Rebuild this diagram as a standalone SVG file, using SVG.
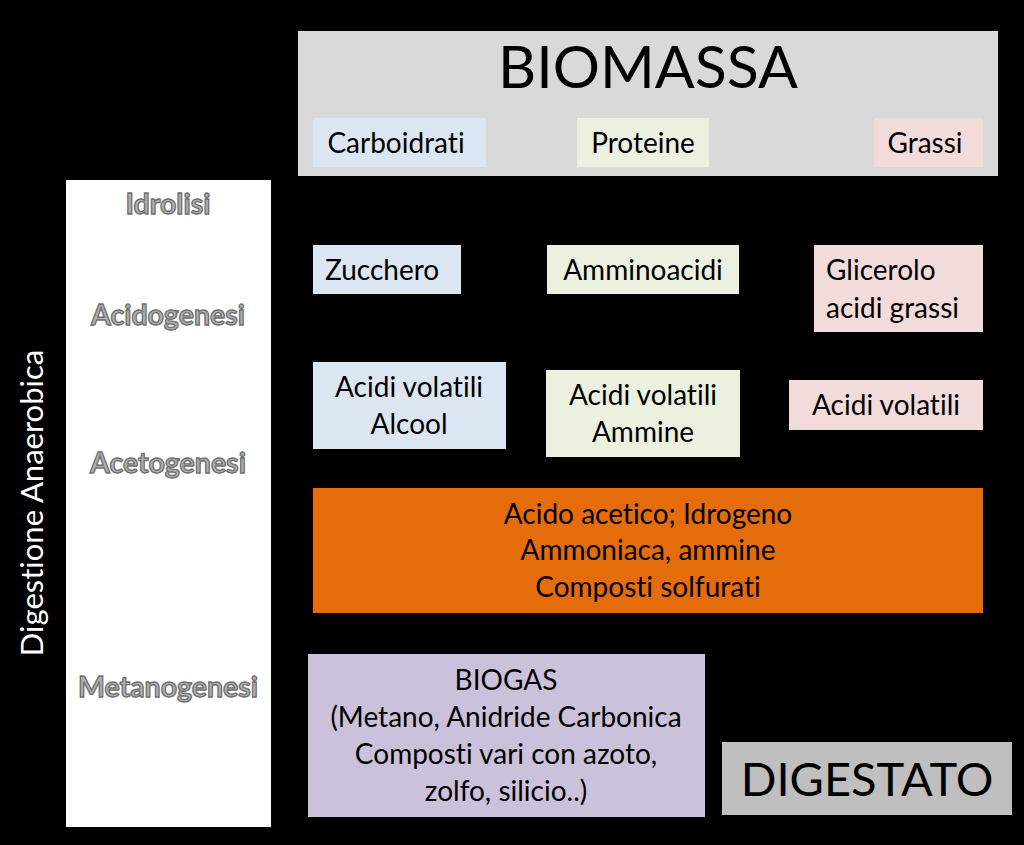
<svg xmlns="http://www.w3.org/2000/svg" width="1024" height="845" viewBox="0 0 1024 845">
<style>
text{font-variant-ligatures:none;font-feature-settings:"liga" 0,"clig" 0}
.t{font-family:Lato,"Liberation Sans",sans-serif;font-size:28px;fill:#000}
.c{text-anchor:middle}
.ph{font-family:Lato,"Liberation Sans",sans-serif;font-size:28.5px;font-weight:bold;fill:#b0b0b0;stroke:#6f6f6f;stroke-width:1.3;text-anchor:middle}
</style>
<rect x="0" y="0" width="1024" height="845" fill="#000"/>
<g id="biomassa">
<rect x="298" y="31" width="700" height="145" fill="#d9d9d9"/>
<text class="t c" x="648" y="88" style="font-size:59px">BIOMASSA</text>
</g>
<g id="carboidrati"><rect x="313" y="118" width="173" height="49" fill="#dce6f2"/><text class="t c" x="396" y="153">Carboidrati</text></g>
<g id="proteine"><rect x="577" y="118" width="132" height="49" fill="#ebf1de"/><text class="t c" x="643" y="153">Proteine</text></g>
<g id="grassi"><rect x="874" y="118" width="109" height="49" fill="#f2dcdb"/><text class="t c" x="925" y="153">Grassi</text></g>
<g id="fasi">
<rect x="66" y="180" width="205" height="647" fill="#fff"/>
<text class="ph" x="168" y="214">Idrolisi</text>
<text class="ph" x="168" y="325">Acidogenesi</text>
<text class="ph" x="168" y="473">Acetogenesi</text>
<text class="ph" x="168" y="697">Metanogenesi</text>
</g>
<g id="digestione"><text class="t c" x="0" y="0" style="fill:#fff;font-size:31px" transform="translate(43,503) rotate(-90)">Digestione Anaerobica</text></g>
<g id="zucchero"><rect x="313" y="245" width="148" height="49" fill="#dce6f2"/><text class="t" x="325" y="280">Zucchero</text></g>
<g id="amminoacidi"><rect x="547" y="245" width="192" height="49" fill="#ebf1de"/><text class="t c" x="643" y="280">Amminoacidi</text></g>
<g id="glicerolo"><rect x="814" y="245" width="169" height="87" fill="#f2dcdb"/><text class="t" x="826" y="280">Glicerolo</text><text class="t" x="826" y="318">acidi grassi</text></g>
<g id="acidi1"><rect x="313" y="362" width="193" height="87" fill="#dce6f2"/><text class="t c" x="409" y="397">Acidi volatili</text><text class="t c" x="409" y="434">Alcool</text></g>
<g id="acidi2"><rect x="546" y="370" width="194" height="87" fill="#ebf1de"/><text class="t c" x="643" y="405">Acidi volatili</text><text class="t c" x="643" y="442">Ammine</text></g>
<g id="acidi3"><rect x="789" y="380" width="194" height="50" fill="#f2dcdb"/><text class="t c" x="886" y="415">Acidi volatili</text></g>
<g id="acetico"><rect x="313" y="488" width="670" height="125" fill="#e46c0a"/>
<text class="t c" x="648" y="524">Acido acetico; Idrogeno</text>
<text class="t c" x="648" y="560">Ammoniaca, ammine</text>
<text class="t c" x="648" y="597">Composti solfurati</text></g>
<g id="biogas"><rect x="308" y="654" width="397" height="163" fill="#ccc1da"/>
<text class="t c" x="506" y="690">BIOGAS</text>
<text class="t c" x="506" y="727">(Metano, Anidride Carbonica</text>
<text class="t c" x="506" y="764">Composti vari con azoto,</text>
<text class="t c" x="506" y="801">zolfo, silicio..)</text></g>
<g id="digestato"><rect x="722" y="742" width="290" height="73" fill="#bfbfbf"/><text class="t c" x="867" y="796" style="font-size:47px">DIGESTATO</text></g>
<g id="connectors"/>
</svg>
